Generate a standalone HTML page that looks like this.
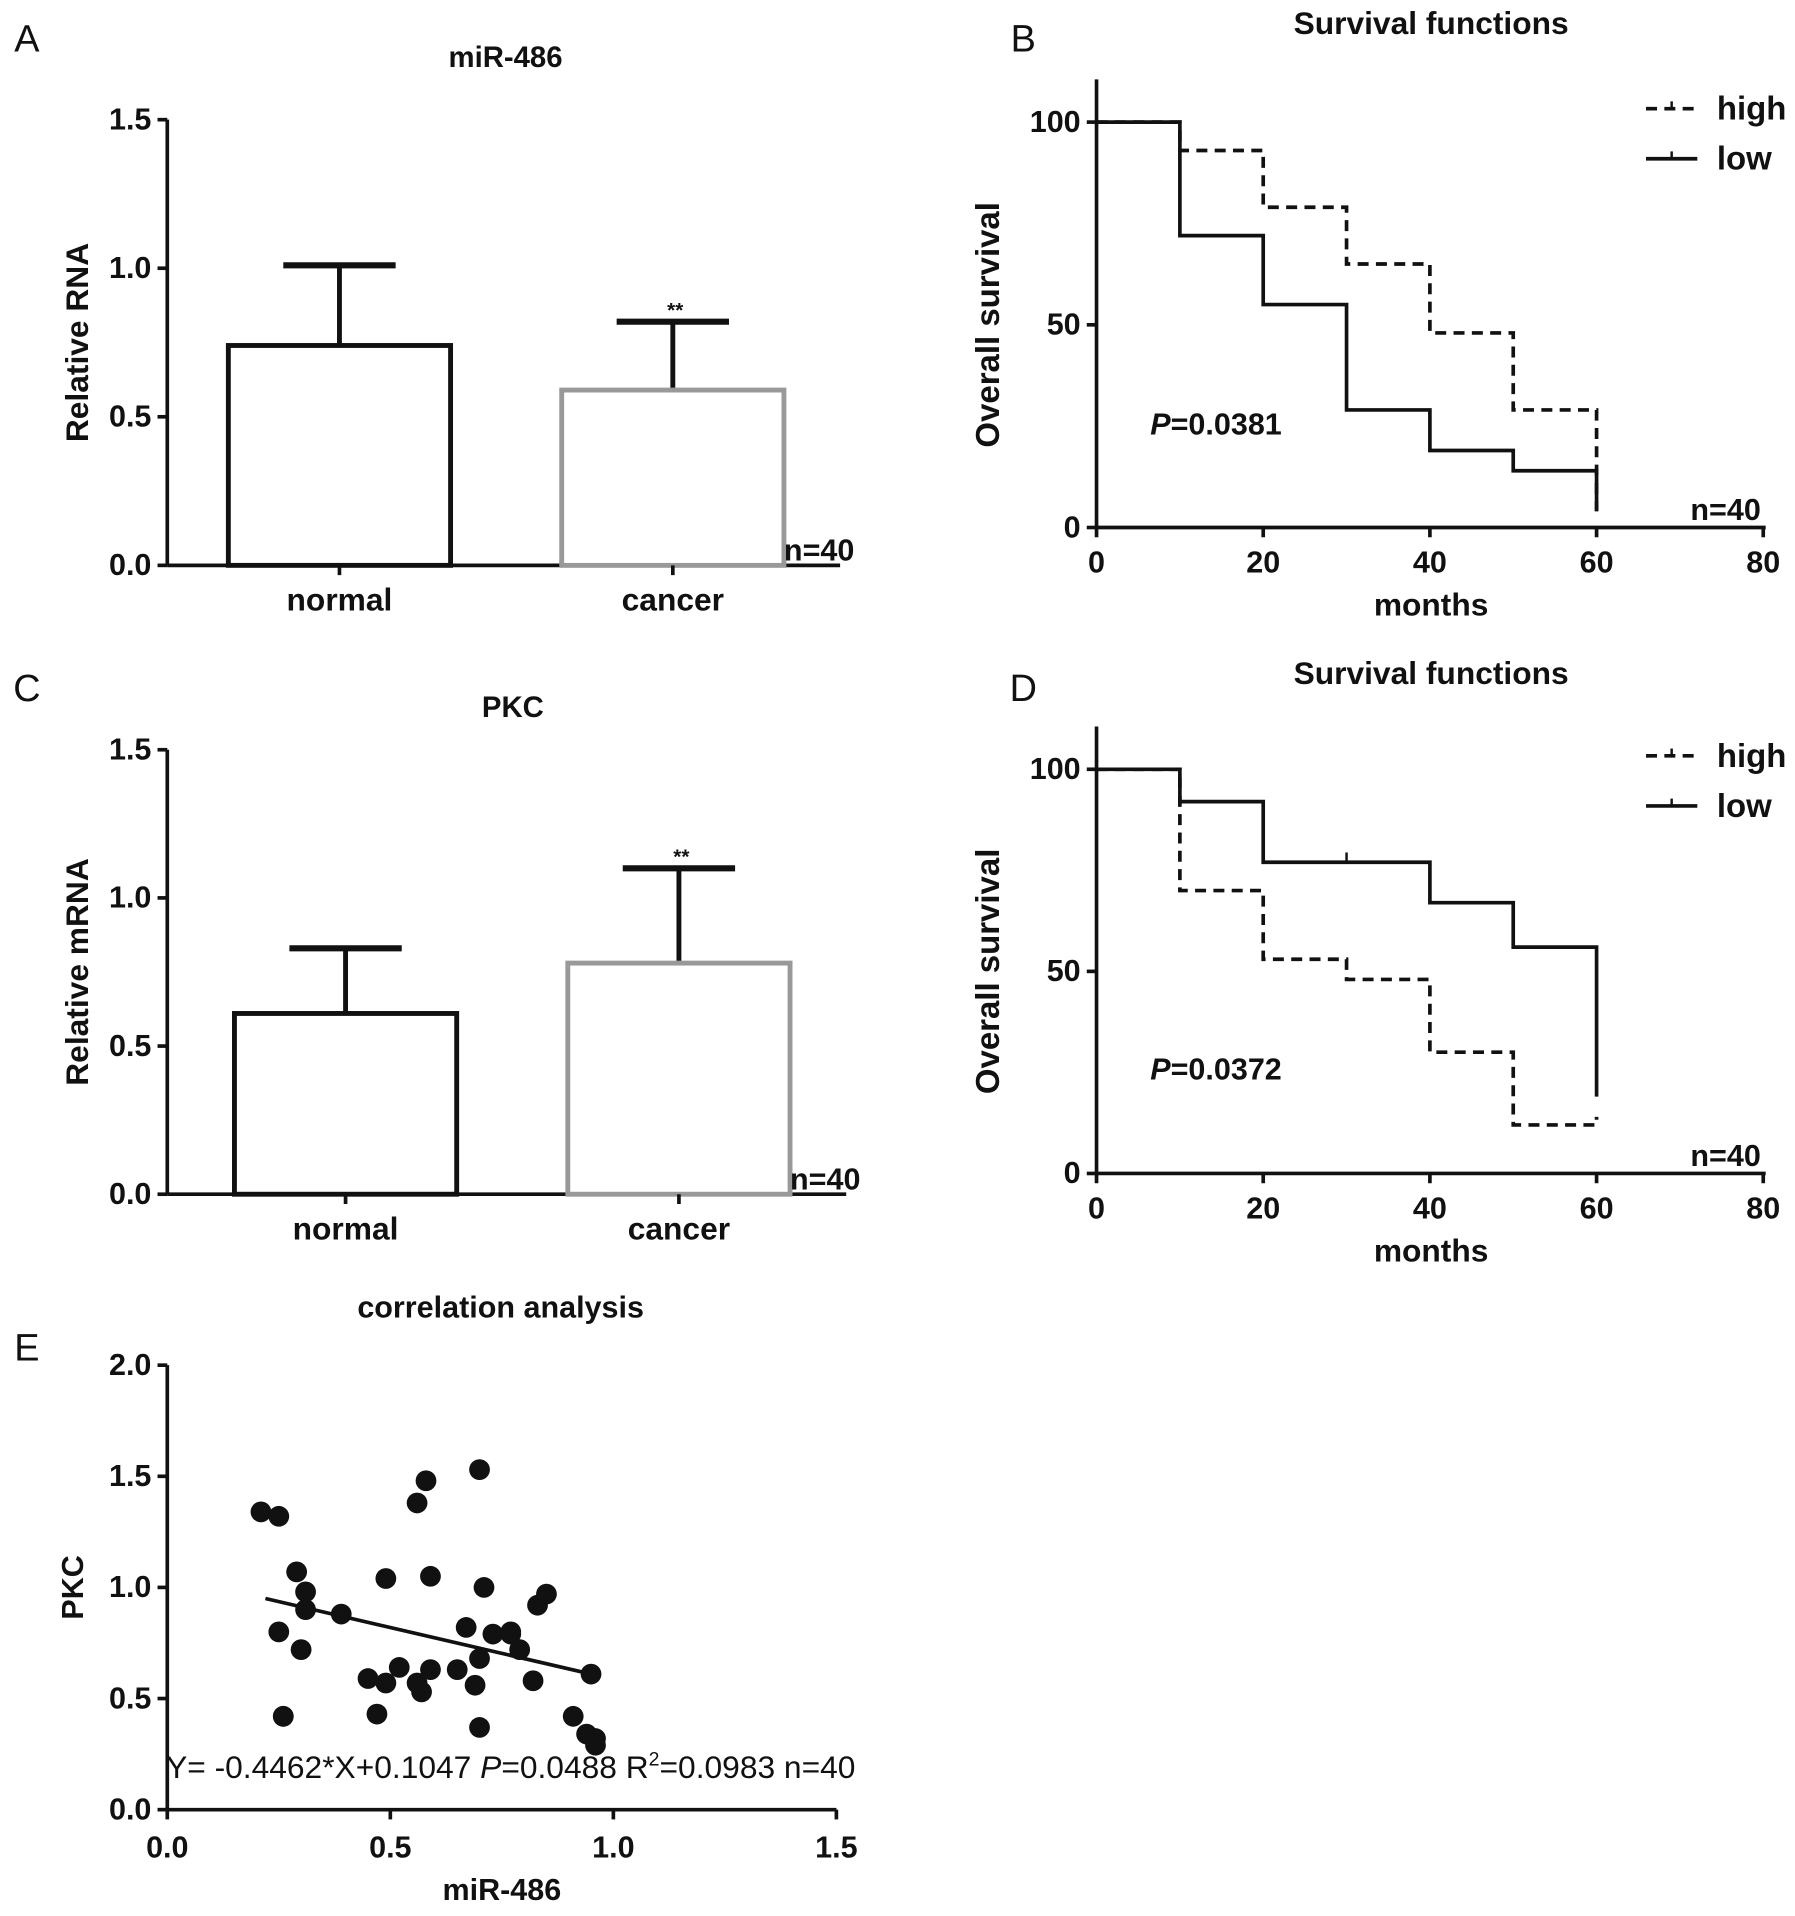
<!DOCTYPE html>
<html><head><meta charset="utf-8"><style>
html,body{margin:0;padding:0;background:#fff}
svg text{font-family:"Liberation Sans",sans-serif;font-weight:bold;fill:#111}
svg text.nb{font-weight:normal}
</style></head><body>
<svg id="fig" width="1795" height="1911" viewBox="0 0 1470 1565" xmlns="http://www.w3.org/2000/svg"></svg>
<script>
// Panel A
const barCats=["normal","cancer"];
const barA=[0.74,0.59]; const errA=[1.01,0.82];
// Panel C
const barC=[0.61,0.78]; const errC=[0.83,1.10];
const barTicks=["0.0","0.5","1.0","1.5"];
// Panel B
const survX=[0,10,20,30,40,50,60];
const bHigh=[100,93,79,65,48,29,4];
const bLow=[100,72,55,29,19,14,4];
// Panel D
const dHigh=[100,70,53,48,30,12,14];
const dLow=[100,92,77,77,67,56,19];
const survYTicks=[0,50,100]; const survXTicks=[0,20,40,60,80];
// Panel E
const scX=[0.21,0.25,0.29,0.31,0.31,0.39,0.25,0.30,0.26,0.49,0.59,0.56,0.58,0.70,0.71,0.67,0.45,0.49,0.52,0.56,0.57,0.59,0.65,0.70,0.69,0.47,0.70,0.73,0.77,0.79,0.82,0.83,0.85,0.95,0.91,0.94,0.96,0.96,0.77,0.26];
const scY=[1.34,1.32,1.07,0.98,0.90,0.88,0.80,0.72,0.42,1.04,1.05,1.38,1.48,1.53,1.00,0.82,0.59,0.57,0.64,0.57,0.53,0.63,0.63,0.68,0.56,0.43,0.37,0.79,0.80,0.72,0.58,0.92,0.97,0.61,0.42,0.34,0.32,0.29,0.79,0.42];
const fitX=[0.22,0.95]; const fitY=[0.95,0.61];
const eXTicks=["0.0","0.5","1.0","1.5"]; const eYTicks=["0.0","0.5","1.0","1.5","2.0"];

const S=document.getElementById('fig');const NS="http://www.w3.org/2000/svg";
function el(t,a,name,txt){const e=document.createElementNS(NS,t);for(const k in a)e.setAttribute(k,a[k]);


if(txt!==undefined)e.textContent=txt;S.appendChild(e);return e;}
function line(x1,y1,x2,y2,name,w,c,dash){const a={x1,y1,x2,y2,stroke:c||'#111','stroke-width':w||3};if(dash)a['stroke-dasharray']=dash;return el('line',a,name);}
function text(x,y,s,name,size,anchor,extra){const a={x,y,'font-size':size||24,'text-anchor':anchor||'middle'};Object.assign(a,extra||{});return el('text',a,name,s);}

function barPanel(ox,y0,y15,vals,errs,title,ylab,letter,ly,tx){
 const ys=v=>y0-(y0-y15)*v/1.5;
 text(22,ly,letter,'panel-letter',31,'middle',{'class':'nb'});
 text(tx,ly+13,title,'panel-title',24);
 line(137,y15,137,y0,'y-axis',3);line(137,y0,ox+551,y0,'x-axis',3);
 barTicks.forEach((t,i)=>{const y=ys(+t);line(129,y,137,y,'y-tick',3);text(124,y+8,t,'y-tick-label',25,'end');});
 const cx=[ox+141,ox+414];
 vals.forEach((v,i)=>{const c=i?'#999':'#111';
  line(cx[i],ys(v),cx[i],ys(errs[i]),'error-bar',4);line(cx[i]-46,ys(errs[i]),cx[i]+46,ys(errs[i]),'error-cap',5);
  el('rect',{x:cx[i]-91,y:ys(v),width:182,height:y0-ys(v),fill:'none',stroke:c,'stroke-width':4},'bar-'+barCats[i]);
  line(cx[i],y0,cx[i],y0+8,'x-tick',3);text(cx[i],y0+37,barCats[i],'x-tick-label',26);});
 text(cx[1]+2,ys(errs[1])-4,'**','significance',17);
 text(ox+505,y0-4,'n=40','n-label',25,'start');
 text(72,(y0+y15)/2,ylab,'y-axis-title',26,'middle',{transform:`rotate(-90 72 ${(y0+y15)/2})`});
}
barPanel(137,463,98,barA,errA,'miR-486','Relative RNA','A',42,414);
barPanel(142,978,614,barC,errC,'PKC','Relative mRNA','C',574,420);

function stepPath(vals){let d='';const xs=m=>898+6.825*m;
 for(let i=0;i<vals.length-1;i++){d+=(i?'L':'M')+xs(survX[i])+','+vals[i]+'L'+xs(survX[i+1])+','+vals[i];}
 d+='L'+xs(survX[survX.length-1])+','+vals[vals.length-1];return d;}
function survPanel(y0,y100,hi,lo,letter,ly,pTxt,pY,solidTick){
 const ys=v=>y0-(y0-y100)*v/100, xs=m=>898+6.825*m;
 text(838,ly,letter,'panel-letter',31,'middle',{'class':'nb'});
 text(1172,ly-14,'Survival functions','panel-title',26);
 line(898,y100-35,898,y0,'y-axis',3);line(898,y0,1446,y0,'x-axis',3);
 survYTicks.forEach(t=>{line(890,ys(t),898,ys(t),'y-tick',3);text(885,ys(t)+8,t,'y-tick-label',25,'end');});
 survXTicks.forEach(t=>{line(xs(t),y0,xs(t),y0+8,'x-tick',3);text(xs(t),y0+37,t,'x-tick-label',25);});
 el('path',{d:stepPath(hi.map(ys)),fill:'none',stroke:'#111','stroke-width':3,'stroke-dasharray':'9,6'},'high-curve');
 el('path',{d:stepPath(lo.map(ys)),fill:'none',stroke:'#111','stroke-width':3},'low-curve');
 if(solidTick)line(xs(30),ys(77),xs(30),ys(77)-8,'censor-tick',2);
 text(1172,y0+72,'months','x-axis-title',26);
 text(818,(y0+y100)/2,'Overall survival','y-axis-title',27,'middle',{transform:`rotate(-90 818 ${(y0+y100)/2})`});
 const pt=text(942,pY,'','p-value',25,'start');pt.innerHTML='<tspan font-style="italic">P</tspan>=0.'+pTxt.slice(2);
 text(1442,y0-6,'n=40','n-label',25,'end');
 line(1348,y100-11,1390,y100-11,'legend-high-line',3,'#111','9,6');line(1369,y100-11,1369,y100-17,'legend-high-tick',2);text(1406,y100-2,'high','legend-high',27,'start');
 line(1348,y100+30,1390,y100+30,'legend-low-line',3);line(1369,y100+30,1369,y100+24,'legend-low-tick',2);text(1406,y100+39,'low','legend-low',27,'start');
}
survPanel(432,100,bHigh,bLow,'B',42,'0.0381',356,false);
survPanel(961,630,dHigh,dLow,'D',574,'0.0372',884,true);

// Panel E
(function(){const xs=v=>137+365.3*v, ys=v=>1482-182*v;
 text(22,1114,'E','panel-letter',31,'middle',{'class':'nb'});
 text(410,1079,'correlation analysis','panel-title',25);
 line(137,ys(2),137,1482,'y-axis',3);line(137,1482,685,1482,'x-axis',3);
 eYTicks.forEach(t=>{line(129,ys(+t),137,ys(+t),'y-tick',3);text(124,ys(+t)+8,t,'y-tick-label',25,'end');});
 eXTicks.forEach(t=>{line(xs(+t),1482,xs(+t),1490,'x-tick',3);text(xs(+t),1521,t,'x-tick-label',25);});
 scX.forEach((x,i)=>{el('circle',{cx:xs(x),cy:ys(scY[i]),r:8.5,fill:'#111'},'point');});
 line(xs(fitX[0]),ys(fitY[0]),xs(fitX[1]),ys(fitY[1]),'regression-line',3);
 const t=text(136,1456,'','equation',26,'start',{'class':'nb'});t.innerHTML='Y= -0.4462*X+0.1047 <tspan font-style="italic">P</tspan>=0.0488 R<tspan font-size="16" dy="-10">2</tspan><tspan dy="10">=0.0983 n=40</tspan>';
 text(411,1556,'miR-486','x-axis-title',25);
 text(68,1300,'PKC','y-axis-title',25,'middle',{transform:'rotate(-90 68 1300)'});
})();
</script>
</body></html>
